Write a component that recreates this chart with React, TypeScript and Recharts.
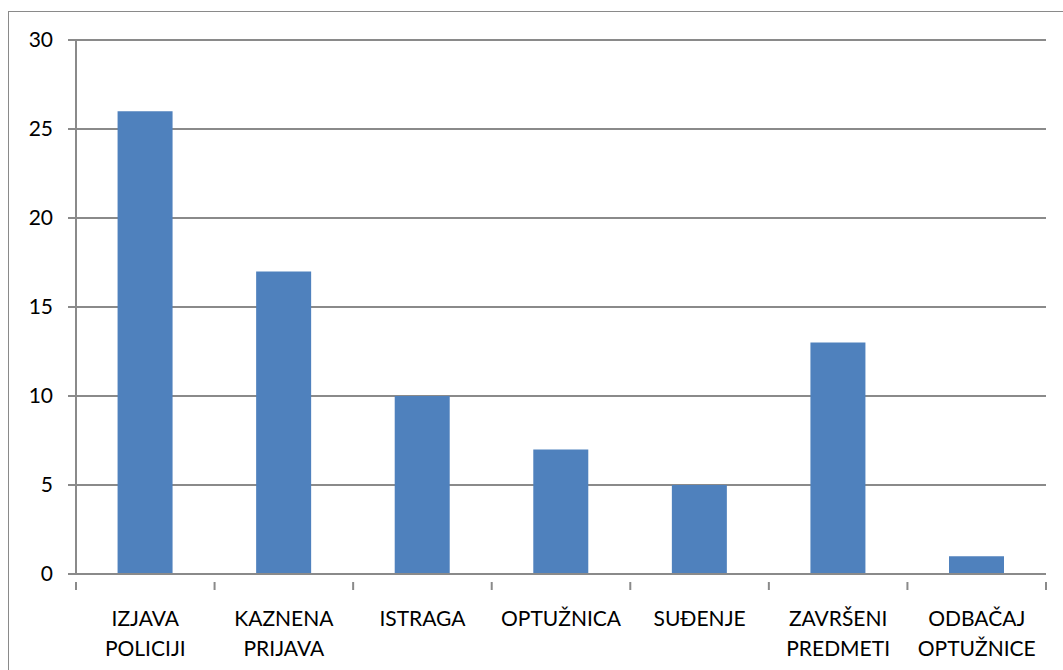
import { BarChart, Bar, XAxis, YAxis, CartesianGrid } from "recharts";

const categories = [
  ["IZJAVA", "POLICIJI"],
  ["KAZNENA", "PRIJAVA"],
  ["ISTRAGA"],
  ["OPTUŽNICA"],
  ["SUĐENJE"],
  ["ZAVRŠENI", "PREDMETI"],
  ["ODBAČAJ", "OPTUŽNICE"],
];
const values = [26, 17, 10, 7, 5, 13, 1];
const yTicks = [0, 5, 10, 15, 20, 25, 30];

const data = categories.map((lines, i) => ({
  name: lines.join(" "),
  lines,
  value: values[i],
}));

const FONT = "Lato, 'Open Sans', sans-serif";
const AXIS_GRAY = "#8a8a8a";

interface TickProps {
  x?: number;
  y?: number;
  index?: number;
  payload?: { offset?: number };
}

// category labels on two lines, tick marks at the band edges (Excel style)
const CategoryTick = ({ x = 0, y = 0, index = 0, payload }: TickProps) => {
  const lines = data[index]?.lines ?? [];
  const half = payload?.offset || 69.3;
  const isLast = index === data.length - 1;
  return (
    <g transform={`translate(${x},${y})`}>
      <line x1={-half} x2={-half} y1={0} y2={8} stroke={AXIS_GRAY} strokeWidth={2} />
      {isLast && <line x1={half} x2={half} y1={0} y2={8} stroke={AXIS_GRAY} strokeWidth={2} />}
      {lines.map((line, i) => (
        <text
          key={i}
          x={0}
          y={44 + i * 30}
          textAnchor="middle"
          fill="#000"
          fontSize={21}
          fontFamily={FONT}
        >
          {line}
        </text>
      ))}
    </g>
  );
};

export default function App() {
  return (
    <div style={{ position: "absolute", left: 0, top: 0, width: 1063, height: 670, overflow: "hidden", background: "#fff" }}>
      <div
        style={{
          position: "absolute",
          left: 8,
          top: 11,
          width: 1070,
          height: 680,
          border: "1.5px solid #8a8a8a",
          boxSizing: "border-box",
        }}
      />
      <BarChart
        width={1063}
        height={670}
        data={data}
        margin={{ top: 40, right: 17, left: 16, bottom: 6 }}
        barCategoryGap="30%"
        style={{ position: "absolute", left: 0, top: 0 }}
      >
        <CartesianGrid vertical={false} stroke={AXIS_GRAY} strokeWidth={2} />
        <XAxis
          dataKey="name"
          height={90}
          interval={0}
          stroke={AXIS_GRAY}
          strokeWidth={2}
          tickLine={false}
          tick={<CategoryTick />}
        />
        <YAxis
          width={60}
          domain={[0, 30]}
          ticks={yTicks}
          interval={0}
          stroke={AXIS_GRAY}
          strokeWidth={2}
          tickSize={8}
          tickMargin={15}
          tick={{ fill: "#000", fontSize: 21, fontFamily: FONT }}
        />
        <Bar dataKey="value" fill="#4f81bd" isAnimationActive={false} />
      </BarChart>
    </div>
  );
}
